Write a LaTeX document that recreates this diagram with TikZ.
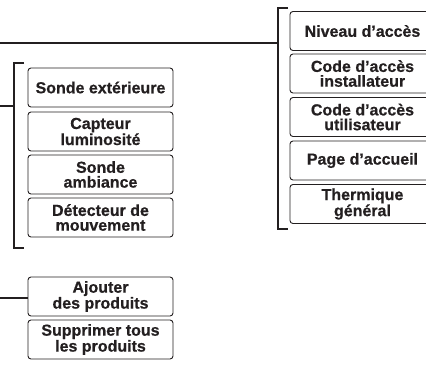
\documentclass[tikz,border=0pt]{standalone}
\usepackage{fontspec}
\setmainfont{Liberation Sans}[BoldFeatures={FakeBold=0.6}]
\definecolor{ink}{HTML}{231F20}
\tikzset{
  box/.style={draw=ink, line width=0.9pt, rounded corners=3pt, minimum width=145pt,
    minimum height=39pt, inner sep=0pt, align=center, text=ink,
    font=\bfseries\fontsize{16}{14.8}\selectfont},
  link/.style={draw=ink, line width=2pt}
}
\begin{document}
\begin{tikzpicture}[x=1pt,y=-1pt]
\useasboundingbox (0,0) rectangle (426,365);
\clip (0,0) rectangle (426,365);
% right column
\node[box] (r1) at (362.5,31) {Niveau d’accès};
\node[box] (r2) at (362.5,73.5) {Code d’accès\\installateur};
\node[box] (r3) at (362.5,117) {Code d’accès\\utilisateur};
\node[box] (r4) at (362.5,160.5) {Page d’accueil};
\node[box] (r5) at (362.5,204) {Thermique\\général};
% left column
\node[box] (l1) at (100.5,87.5) {Sonde extérieure};
\node[box] (l2) at (100.5,131.5) {Capteur\\luminosité};
\node[box] (l3) at (100.5,174.5) {Sonde\\ambiance};
\node[box] (l4) at (100.5,217.5) {Détecteur de\\mouvement};
% bottom group
\node[box] (b1) at (100.5,296.5) {Ajouter\\des produits};
\node[box] (b2) at (100.5,339.5) {Supprimer tous\\les produits};
% coordinates
\coordinate (s1) at (0,43);
\coordinate (s2) at (0,106);
\coordinate (s3) at (0,298);
\coordinate (rbTop) at (278,8);
\coordinate (rbBot) at (278,229);
\coordinate (lbTop) at (14,63);
\coordinate (lbBot) at (14,248);
% brackets
\draw[link] ([xshift=10pt]rbTop) -- (rbTop) -- (rbBot) -- ([xshift=10pt]rbBot);
\draw[link] ([xshift=10pt]lbTop) -- (lbTop) -- (lbBot) -- ([xshift=10pt]lbBot);
% connectors
\draw[link] (s1) -- (s1 -| rbTop);
\draw[link] (s2) -- (s2 -| lbTop);
\draw[link] (s3) -- (s3 -| b1.west);
\end{tikzpicture}
\end{document}
